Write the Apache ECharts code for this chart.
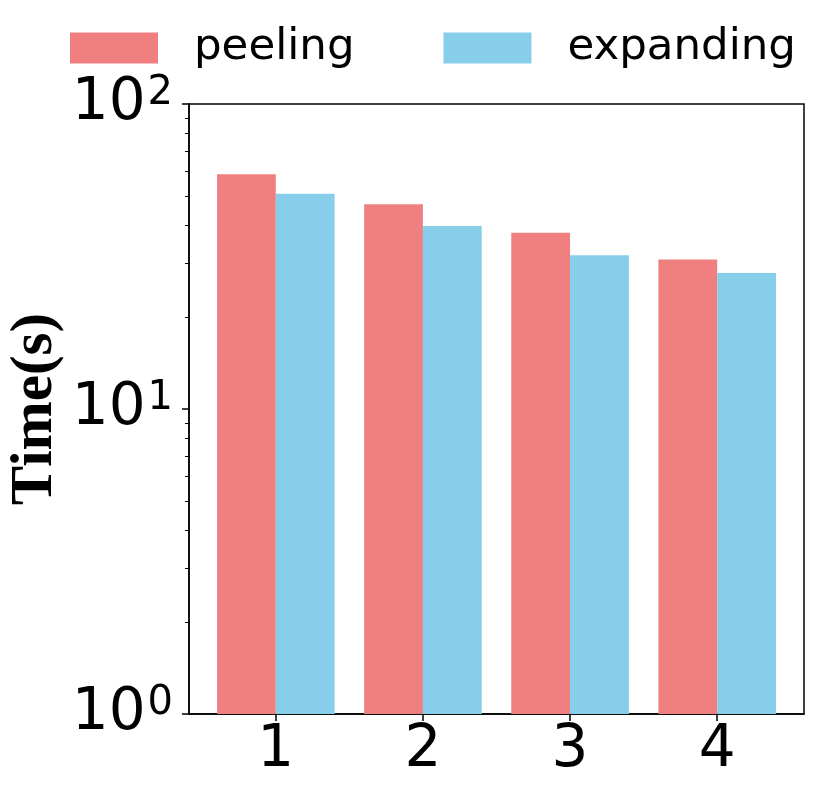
<!DOCTYPE html>
<html>
<head>
<meta charset="utf-8">
<script src="https://cdn.jsdelivr.net/npm/echarts@6/dist/echarts.min.js"></script>
<style>
  html, body { margin: 0; padding: 0; background: #fff; }
  #main { width: 830px; height: 797px; }
</style>
</head>
<body>
<div id="main"></div>
<script>
// data
const categories = [1, 2, 3, 4];
const peeling = [58.8, 46.9, 37.8, 30.9];
const expanding = [50.8, 39.8, 31.9, 27.9];
const majorTicks = [1, 10, 100];
const minorTicks = [2, 3, 4, 5, 6, 7, 8, 9, 20, 30, 40, 50, 60, 70, 80, 90];

const chart = echarts.init(document.getElementById('main'));

const grid = {
  left: 189, right: 26, top: 104, bottom: 83,
  outerBoundsMode: 'none', containLabel: false,
  show: true, borderColor: '#000', borderWidth: 1.5, backgroundColor: 'transparent'
};

const option = {
  animation: false,
  legend: {
    left: 70, top: 26, padding: 0,
    itemWidth: 88, itemHeight: 31, itemGap: 89,
    icon: 'rect',
    textStyle: { fontFamily: 'DejaVu Sans', fontSize: 43.5, color: '#000', padding: [0, 0, 0, 31] },
    data: ['peeling', 'expanding']
  },
  grid: grid,
  xAxis: {
    type: 'value', min: 0.41, max: 4.59,
    splitLine: { show: false },
    axisLine: { show: true, lineStyle: { color: '#000', width: 1.5 } },
    axisTick: { show: true, customValues: categories, length: 7, lineStyle: { color: '#000', width: 1.5 } },
    axisLabel: { customValues: categories, fontFamily: 'DejaVu Sans', fontSize: 58, color: '#000', margin: 8 }
  },
  yAxis: [
    {
      type: 'log', logBase: 10, min: 1, max: 100,
      name: 'Time(s)', nameLocation: 'middle', nameRotate: 90, nameGap: 124,
      nameMoveOverlap: false,
      nameTextStyle: { fontFamily: 'Liberation Serif', fontWeight: 'bold', fontSize: 59, color: '#000' },
      splitLine: { show: false },
      axisLine: { show: true, lineStyle: { color: '#000', width: 1.5 } },
      axisTick: { show: true, customValues: majorTicks, length: 7, lineStyle: { color: '#000', width: 1.5 } },
      axisLabel: {
        customValues: majorTicks,
        margin: 16,
        formatter: v => '{b|10}{s|' + Math.round(Math.log10(v)) + '}',
        rich: {
          b: { fontFamily: 'DejaVu Sans', fontSize: 58, color: '#000', lineHeight: 60, verticalAlign: 'middle' },
          s: { fontFamily: 'DejaVu Sans', fontSize: 40, color: '#000', lineHeight: 22, verticalAlign: 'top', padding: [0, 0, 0, 2] }
        }
      }
    },
    {
      type: 'log', logBase: 10, min: 1, max: 100, position: 'left',
      splitLine: { show: false },
      axisLine: { show: false },
      axisLabel: { show: false },
      axisTick: { show: true, customValues: minorTicks, length: 4, lineStyle: { color: '#000', width: 1 } }
    }
  ],
  series: [
    {
      name: 'peeling', type: 'bar', barWidth: 58.8, barGap: '0%',
      itemStyle: { color: '#F08080' },
      data: categories.map((c, i) => [c, peeling[i]])
    },
    {
      name: 'expanding', type: 'bar', barWidth: 58.8, barGap: '0%',
      itemStyle: { color: '#87CEEB' },
      data: categories.map((c, i) => [c, expanding[i]])
    }
  ]
};
chart.setOption(option);
</script>
</body>
</html>
